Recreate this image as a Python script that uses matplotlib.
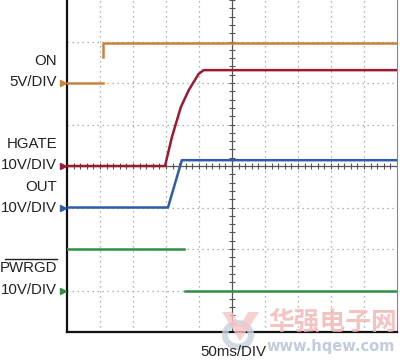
import numpy as np
import matplotlib
matplotlib.use("Agg")
import matplotlib.pyplot as plt
from matplotlib.lines import Line2D
from matplotlib.patches import Circle, Polygon

# ---- data (oscilloscope divisions: x 0..10, y 0..8) ----
on_x = [0, 1.08, np.nan, 1.08, 1.08, 10]
on_y = [6.0, 6.0, np.nan, 6.63, 6.97, 6.97]

hgate_x = [0, 2.97, 3.18, 3.45, 3.69, 3.99, 4.14, 10]
hgate_y = [4.0, 4.0, 4.70, 5.42, 5.83, 6.22, 6.31, 6.31]

out_x = [0, 3.06, 3.48, 10]
out_y = [3.0, 3.0, 4.14, 4.14]

pwrgd_x = [0, 3.54, np.nan, 3.57, 10]
pwrgd_y = [2.0, 2.0, np.nan, 1.0, 1.0]

ref_levels = [6.0, 4.0, 3.0, 1.0]
colors = ["#c8843a", "#9c1a30", "#2d5ca8", "#2f8f46"]

labels = [("ON", 61), ("5V/DIV", 82), ("HGATE", 144), ("10V/DIV", 165),
          ("OUT", 187), ("10V/DIV", 208), ("PWRGD", 268), ("10V/DIV", 290)]
xlabel = "50ms/DIV"

W, H = 400, 362
fig = plt.figure(figsize=(W / 100, H / 100), dpi=100)

# watermark (behind everything)
fig.patches.append(Circle((238 / W, 1 - 335 / H), 13 / W, transform=fig.transFigure,
                          fill=False, lw=4.5, ec="#c9d1e0", alpha=0.8, zorder=0))
vpts = [(222, 312), (232, 312), (240, 326), (248, 312), (259, 312), (240, 341)]
fig.patches.append(Polygon([(px / W, 1 - py / H) for px, py in vpts], closed=True,
                           transform=fig.transFigure, fc="#f6c6c6", ec="none",
                           alpha=0.8, zorder=0))
fig.text(333 / W, 1 - 322 / H, "华强电子网", ha="center", va="center", fontsize=18.5,
         family=["Noto Sans CJK SC", "DejaVu Sans"], fontweight="bold",
         color="#f3b3b3", alpha=0.8, zorder=0)
fig.text(331 / W, 1 - 346 / H, "www.hqew.com", ha="center", va="center", fontsize=10.5,
         family=["DejaVu Sans"], fontweight="bold", color="#b9c3d6", alpha=0.85, zorder=0)

ax = fig.add_axes([67 / W, (H - 332) / H, 330 / W, 332 / H])
ax.patch.set_alpha(0)
ax.set_xlim(0, 10)
ax.set_ylim(0, 8)
ax.set_xticks([])
ax.set_yticks([])
for s in ["left", "bottom"]:
    ax.spines[s].set_linewidth(1.6)
    ax.spines[s].set_color("#111111")
ax.spines["right"].set_linewidth(0.8)
ax.spines["right"].set_color("#888888")
ax.spines["top"].set_visible(False)

# dotted grid
for gx in range(1, 10):
    if gx != 5:
        ax.axvline(gx, color="#9a9a9a", lw=0.9, ls=(0, (1, 3)), zorder=1)
for gy in range(1, 8):
    if gy != 4:
        ax.axhline(gy, color="#9a9a9a", lw=0.9, ls=(0, (1, 3)), zorder=1)
# center axes with minor ticks
ax.axvline(5, color="#555555", lw=0.9, zorder=1)
ax.axhline(4, color="#555555", lw=0.9, zorder=1)
mt = np.arange(0, 10.01, 0.2)
ax.plot(mt, np.full_like(mt, 4), ls="none", marker="|", ms=4, mew=0.8, color="#555555", zorder=1)
mty = np.arange(0, 8.01, 0.2)
ax.plot(np.full_like(mty, 5), mty, ls="none", marker="_", ms=4, mew=0.8, color="#555555", zorder=1)

# traces
lw = 1.8
ax.plot(on_x, on_y, color=colors[0], lw=lw, zorder=3)
ax.plot(pwrgd_x, pwrgd_y, color=colors[3], lw=lw, zorder=3)
ax.plot(out_x, out_y, color=colors[2], lw=lw, zorder=4)
ax.plot(hgate_x, hgate_y, color=colors[1], lw=lw, zorder=5)

# reference markers
for lv, c in zip(ref_levels, colors):
    ax.plot([-0.13], [lv], marker=">", ms=4.5, color=c, clip_on=False, zorder=6)

# labels
font = ["Liberation Sans", "DejaVu Sans"]
for txt, py in labels:
    fig.text(57 / W, 1 - py / H, txt, ha="right", va="center", fontsize=10.8,
             family=font, color="#222222")
fig.add_artist(Line2D([5 / W, 57 / W], [1 - 259 / H, 1 - 259 / H], color="#222222", lw=1.0))
fig.text(233 / W, 1 - 352 / H, xlabel, ha="center", va="center", fontsize=10.8,
         family=font, color="#222222")

fig.savefig("out.png", dpi=100)
